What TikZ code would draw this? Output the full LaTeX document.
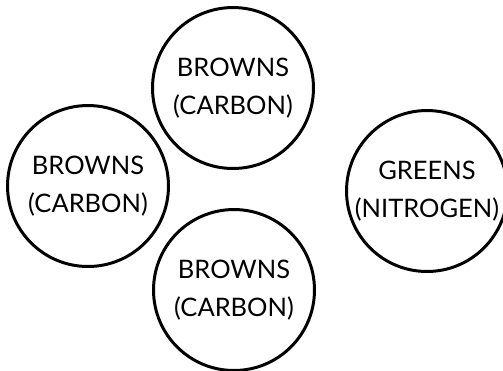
\documentclass[tikz,border=0pt]{standalone}
\usepackage{fontspec}
\setmainfont{Lato}
\usepackage{tikz}

\begin{document}
\begin{tikzpicture}[x=0.02cm, y=-0.02cm,
		pile/.style={draw, circle, line width=1.7pt, minimum size=3.22cm, inner sep=0pt,
			align=center, font=\fontsize{14.5}{21.5}\selectfont}]
		\useasboundingbox (0,0) rectangle (503,370);
		% Nodes
		\node[pile] (browntop) at (233,88) {BROWNS\\(CARBON)};
		\node[pile] (brownleft) at (88,186) {BROWNS\\(CARBON)};
		\node[pile] (brownbottom) at (234,290) {BROWNS\\(CARBON)};
		\node[pile] (greens) at (427,191) {GREENS\\(NITROGEN)};
	\end{tikzpicture}
\end{document}
